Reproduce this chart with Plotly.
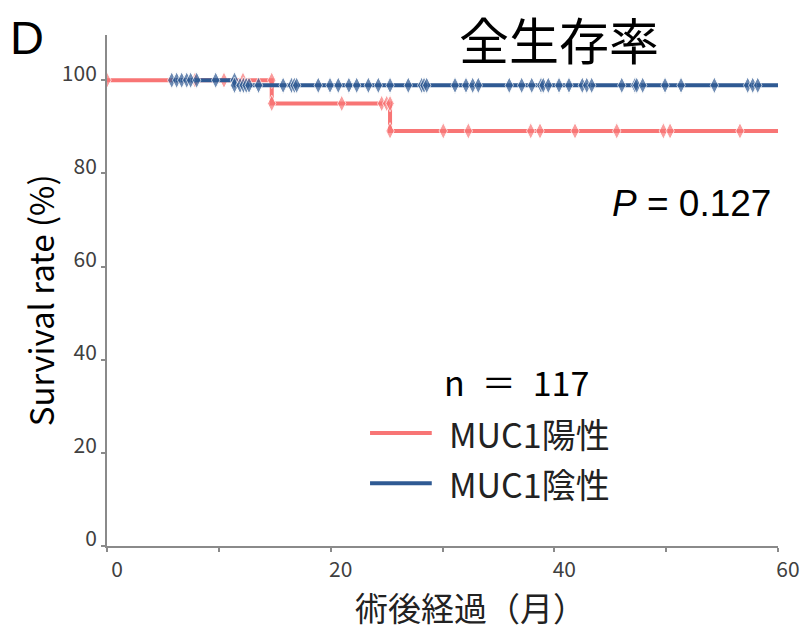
import plotly.graph_objects as go

# Kaplan-Meier overall survival, months after surgery
# MUC1-positive group: step points (duplicate x at each event gives the drop)
pos_months = [0, 7.87, 10.46, 12.16, 14.73, 14.73, 20.99, 24.56, 25.01, 25.31, 25.31,
              30.07, 32.31, 37.89, 38.72, 41.85, 45.58, 49.75, 50.35, 56.6, 60]
pos_surv = [100, 100, 100, 100, 100, 95.0, 95.0, 95.0, 95.0, 95.0, 89.1,
            89.1, 89.1, 89.1, 89.1, 89.1, 89.1, 89.1, 89.1, 89.1, 89.1]

# MUC1-negative group
neg_months = [5.79, 6.23, 6.68, 7.13, 7.48, 8.02, 9.72, 11.4, 11.4,
              11.9, 12.2, 12.45, 12.7, 13.55, 15.75, 16.5, 16.75, 16.96, 18.89,
              19.94, 20.68, 21.63, 22.33, 23.37, 24.26, 25.31, 26.94, 28.14, 28.35,
              28.59, 31.12, 32.1, 32.7, 33.2, 35.97, 37.08, 37.98, 38.81, 39.01,
              39.46, 40.42, 41.31, 42.5, 42.9, 43.34, 46.03, 47.21, 47.37, 47.9,
              49.9, 51.33, 54.31, 57.29, 57.74, 58.19, 60]
neg_surv = [100] * 8 + [98.9] * (len(neg_months) - 8)

x_ticks = [0, 20, 40, 60]
y_ticks = [0, 20, 40, 60, 80, 100]

RED = "#F87575"
BLUE = "#2F5A93"
JP = "Noto Sans CJK JP"


def marker_sizes(n, size=12):
    # last point is only the end of the follow-up line, not an observation
    return [size] * (n - 1) + [0]


fig = go.Figure()
fig.add_trace(go.Scatter(
    x=pos_months, y=pos_surv, mode="lines+markers", name="MUC1陽性",
    line=dict(color=RED, width=4),
    marker=dict(symbol="diamond-tall", size=marker_sizes(len(pos_months)), color=RED),
    showlegend=False,
))
fig.add_trace(go.Scatter(
    x=neg_months, y=neg_surv, mode="lines+markers", name="MUC1陰性",
    line=dict(color=BLUE, width=4),
    marker=dict(symbol="diamond-tall", size=marker_sizes(len(neg_months)), color=BLUE),
    showlegend=False,
))

axis_common = dict(
    showline=True, linecolor="#8A8A8A", linewidth=2, showgrid=False, zeroline=False,
    ticks="outside", ticklen=4, tickcolor="#8A8A8A", tickwidth=2, automargin=False,
    tickfont=dict(family=JP, size=21, color="#404040"),
)

fig.update_xaxes(range=[0, 60], tickvals=x_ticks, ticklabelshift=10,
                 minor=dict(dtick=10, ticks="outside", ticklen=4, tickcolor="#8A8A8A", tickwidth=2),
                 **axis_common)
fig.update_yaxes(range=[0, 109.7], tickvals=y_ticks, ticklabelshift=-7, **axis_common)

annotations = [
    dict(text="D", x=-0.119, y=0.996, font=dict(family="Liberation Sans", size=47, color="black")),
    dict(text="全生存率", x=0.674, y=0.994, font=dict(family=JP, size=50, color="black")),
    dict(text="<i>P</i> = 0.127", x=0.9925, y=0.671, xanchor="right",
         font=dict(family="Liberation Sans", size=37, color="black")),
    dict(text="n\u2002＝\u2002117", x=0.611, y=0.321, font=dict(family=JP, size=34, color="black")),
    dict(text="MUC1陽性", x=0.5067, y=0.221, xanchor="left", font=dict(family=JP, size=34, color="#222")),
    dict(text="MUC1陰性", x=0.5067, y=0.123, xanchor="left", font=dict(family=JP, size=34, color="#222")),
    dict(text="Survival rate (%)", x=-0.0998, y=0.481, textangle=-90,
         font=dict(family=JP, size=33, color="black")),
    dict(text="術後経過（月）", x=0.541, y=-0.119, font=dict(family=JP, size=33, color="#222")),
]
for a in annotations:
    a.setdefault("xanchor", "center")
    fig.add_annotation(xref="paper", yref="paper", yanchor="middle", showarrow=False, **a)

# legend keys
for color, yk in [(RED, 0.221), (BLUE, 0.123)]:
    fig.add_shape(type="line", xref="paper", yref="paper", x0=0.392, x1=0.484, y0=yk, y1=yk,
                  line=dict(color=color, width=4))

fig.update_layout(
    width=802, height=630,
    margin=dict(l=107, r=24, t=35, b=84),
    paper_bgcolor="white", plot_bgcolor="white",
)

fig.write_html("out.html")
